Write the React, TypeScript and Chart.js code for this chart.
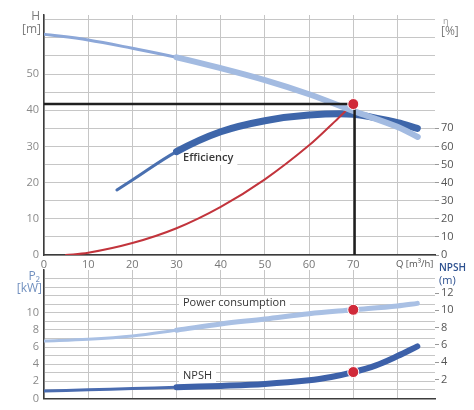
import Chart from 'chart.js/auto';
import { useEffect, useRef } from 'react';

// Q axis (m³/h), shared by both panels
const qTicks = [0, 10, 20, 30, 40, 50, 60, 70, 80];
const qLabels = [0, 10, 20, 30, 40, 50, 60, 70];
const qMax = 88.5;

// top panel: head H [m] on the left, efficiency η [%] on the right
const hTicks = [0, 5, 10, 15, 20, 25, 30, 35, 40, 45, 50, 55, 60, 65];
const hLabels = [0, 10, 20, 30, 40, 50];
const etaTicks = [0, 10, 20, 30, 40, 50, 60, 70];

const headQ = [0, 10, 20, 30, 40, 50, 60, 70, 80, 84.6];
const headM = [61, 59.4, 57.1, 54.6, 51.6, 48.3, 44.4, 39.8, 35.4, 32.6];

const effQ = [16.5, 20, 30, 40, 50, 60, 70, 80, 84.5];
const effPct = [35.9, 41.4, 57.1, 68.1, 74.2, 77.3, 77.7, 73.1, 70];

const systemQ = [4.8, 10, 20, 30, 40, 50, 60, 66.6, 69.5];
const systemM = [0, 0.6, 3.3, 7.4, 13.3, 20.9, 30.3, 37.8, 41.2];

// duty point
const dutyQ = 70;
const dutyH = 41.7;
const dutyP = 10.35;
const dutyNpsh = 2.85;

// bottom panel: P2 [kW] on the left, NPSH [m] on the right
const pTicks = [0, 1, 2, 3, 4, 5, 6, 7, 8, 9, 10, 11, 12, 13, 14];
const pLabels = [0, 2, 4, 6, 8, 10];
const npshTicks = [2, 4, 6, 8, 10, 12];

const powerQ = [0, 10, 20, 30, 40, 50, 60, 70, 80, 84.5];
const powerKw = [6.7, 6.9, 7.28, 7.97, 8.7, 9.27, 9.9, 10.35, 10.8, 11.1];

const npshQ = [0, 10, 20, 30, 40, 50, 60, 65, 70, 75, 80, 84.5];
const npshM = [0.67, 0.79, 0.94, 1.09, 1.25, 1.47, 1.89, 2.28, 2.85, 3.6, 4.7, 5.82];

const pts = (xs: number[], ys: number[]) => xs.map((x, i) => ({ x, y: ys[i] }));
const setTicks = (vals: number[]) => (s: any) => { s.ticks = vals.map(v => ({ value: v })); };

const GRID = '#c6c6c6';
const AXIS = '#3c3c3c';
const FONT = "'Open Sans', sans-serif";

function textBox(ctx: CanvasRenderingContext2D, t: string, x: number, y: number, font: string, color: string) {
	ctx.font = font;
	const w = ctx.measureText(t).width;
	ctx.fillStyle = '#fff';
	ctx.fillRect(x - 4, y - 7, w + 8, 14);
	ctx.fillStyle = color;
	ctx.textBaseline = 'middle';
	ctx.textAlign = 'left';
	ctx.fillText(t, x, y);
}

const topText = {
	id: 'topText',
	beforeDatasetsDraw(chart: any) {
		const ctx = chart.ctx;
		ctx.save();
		textBox(ctx, 'Efficiency', 183, 158, `600 11px ${FONT}`, '#3a3a3a');
		ctx.restore();
	},
	afterDraw(chart: any) {
		const ctx = chart.ctx;
		ctx.save();
		ctx.textBaseline = 'middle';
		ctx.fillStyle = '#7b7b7b';
		ctx.textAlign = 'right';
		ctx.font = `12px ${FONT}`;
		ctx.fillText('H', 40, 17);
		ctx.fillText('[m]', 41, 30);
		ctx.textAlign = 'left';
		ctx.font = `9px ${FONT}`;
		ctx.fillStyle = '#999';
		ctx.fillText('η', 443, 21);
		ctx.font = `12px ${FONT}`;
		ctx.fillStyle = '#7b7b7b';
		ctx.fillText('[%]', 441, 32);
		ctx.font = `9.5px ${FONT}`;
		ctx.fillStyle = '#555';
		ctx.fillText('Q [m³/h]', 396, 264);
		ctx.restore();
	},
};

const bottomText = {
	id: 'bottomText',
	beforeDatasetsDraw(chart: any) {
		const ctx = chart.ctx;
		ctx.save();
		textBox(ctx, 'Power consumption', 183, 45, `11px ${FONT}`, '#333');
		textBox(ctx, 'NPSH', 183, 118, `11px ${FONT}`, '#333');
		ctx.restore();
	},
	afterDraw(chart: any) {
		const ctx = chart.ctx;
		ctx.save();
		ctx.textBaseline = 'middle';
		ctx.fillStyle = '#7190bf';
		ctx.textAlign = 'right';
		ctx.font = `12px ${FONT}`;
		ctx.fillText('P₂', 40, 19);
		ctx.fillText('[kW]', 42, 31);
		ctx.textAlign = 'left';
		ctx.fillStyle = '#2d5190';
		ctx.font = `600 10px ${FONT}`;
		ctx.fillText('NPSH', 439, 10);
		ctx.font = `11px ${FONT}`;
		ctx.fillText('(m)', 439, 23);
		ctx.restore();
	},
};

function xScale(showLabels: boolean, height: number) {
	return {
		type: 'linear' as const,
		min: 0,
		max: qMax,
		afterBuildTicks: setTicks(qTicks),
		afterFit: (s: any) => { s.height = height; },
		grid: { color: GRID, lineWidth: 1, drawTicks: false },
		border: { color: AXIS, width: 1.5 },
		ticks: {
			display: showLabels,
			color: '#777',
			font: { size: 11 },
			padding: 3,
			maxRotation: 0,
			autoSkip: false,
			callback: (v: any) => (qLabels.includes(v) ? String(v) : ''),
		},
	};
}

function leftScale(min: number, max: number, ticks: number[], labels: number[]) {
	return {
		position: 'left' as const,
		min,
		max,
		afterBuildTicks: setTicks(ticks),
		afterFit: (s: any) => { s.width = 44; },
		grid: { color: GRID, lineWidth: 1, drawTicks: false },
		border: { color: AXIS, width: 1.5 },
		ticks: {
			color: '#8a8a8a',
			font: { size: 11 },
			padding: 5,
			autoSkip: false,
			callback: (v: any) => (labels.includes(v) ? String(v) : ''),
		},
	};
}

function rightScale(min: number, max: number, ticks: number[]) {
	return {
		position: 'right' as const,
		min,
		max,
		afterBuildTicks: setTicks(ticks),
		afterFit: (s: any) => { s.width = 39; },
		grid: { drawOnChartArea: false, drawTicks: true, tickLength: 4, color: '#999' },
		border: { display: false },
		ticks: { color: '#555', font: { size: 11 }, padding: 2, autoSkip: false },
	};
}

// a pump curve drawn thin (and a touch darker) up to Q = from, then thick
function curve(data: any[], axis: string, thinColor: string, color: string, thin: number, wide: number, from: number, order: number) {
	return {
		data,
		yAxisID: axis,
		borderColor: color,
		borderCapStyle: 'round' as const,
		tension: 0.35,
		pointRadius: 0,
		segment: {
			borderWidth: (c: any) => (c.p0.parsed.x >= from ? wide : thin),
			borderColor: (c: any) => (c.p0.parsed.x >= from ? color : thinColor),
		},
		order,
	};
}

function dot(x: number, y: number, axis: string) {
	return {
		data: [{ x, y }],
		yAxisID: axis,
		showLine: false,
		pointRadius: 5.5,
		pointBackgroundColor: '#d02a3a',
		pointBorderColor: '#fff',
		pointBorderWidth: 1,
		order: 0,
	};
}

export default function PumpCurve() {
	const topRef = useRef<HTMLCanvasElement | null>(null);
	const bottomRef = useRef<HTMLCanvasElement | null>(null);

	useEffect(() => {
		if (!topRef.current || !bottomRef.current) return;
		Chart.defaults.font.family = FONT;

		const top = new Chart(topRef.current, {
			type: 'line',
			data: {
				datasets: [
					dot(dutyQ, dutyH, 'y'),
					{
						data: [{ x: 0, y: dutyH }, { x: dutyQ, y: dutyH }],
						yAxisID: 'y',
						borderColor: '#1f1f1f',
						borderWidth: 2.5,
						pointRadius: 0,
						order: 1,
					},
					{
						data: [{ x: dutyQ + 0.3, y: 0 }, { x: dutyQ + 0.3, y: dutyH }],
						yAxisID: 'y',
						borderColor: '#1f1f1f',
						borderWidth: 2.5,
						pointRadius: 0,
						order: 1,
					},
					curve(pts(headQ, headM), 'y', '#8ca7d8', '#a3bbe1', 3, 6, 28, 2),
					{
						data: pts(systemQ, systemM),
						yAxisID: 'y',
						borderColor: '#c2343c',
						borderWidth: 2,
						tension: 0.35,
						pointRadius: 0,
						order: 3,
					},
					curve(pts(effQ, effPct), 'eta', '#4a70b0', '#3e66aa', 3, 7, 30, 4),
				],
			},
			options: {
				responsive: false,
				animation: false,
				layout: { padding: { top: 15, left: 0, right: 0, bottom: 0 } },
				plugins: { legend: { display: false }, tooltip: { enabled: false } },
				scales: {
					x: xScale(true, 15),
					y: leftScale(0, 66.3, hTicks, hLabels),
					eta: rightScale(0, 132.6, etaTicks),
				},
			},
			plugins: [topText],
		});

		const bottom = new Chart(bottomRef.current, {
			type: 'line',
			data: {
				datasets: [
					dot(dutyQ, dutyP, 'y'),
					dot(dutyQ, dutyNpsh, 'npsh'),
					curve(pts(powerQ, powerKw), 'y', '#a9c0e4', '#a9c0e4', 3, 5, 30, 1),
					curve(pts(npshQ, npshM), 'npsh', '#4a6cb0', '#3d61a9', 3, 6, 30, 1),
				],
			},
			options: {
				responsive: false,
				animation: false,
				layout: { padding: { top: 12, left: 0, right: 0, bottom: 0 } },
				plugins: { legend: { display: false }, tooltip: { enabled: false } },
				scales: {
					x: xScale(false, 10),
					y: leftScale(0, 15, pTicks, pLabels),
					npsh: rightScale(-0.2, 14.67, npshTicks),
				},
			},
			plugins: [bottomText],
		});

		return () => {
			top.destroy();
			bottom.destroy();
		};
	}, []);

	return (
		<div style={{ position: 'absolute', left: 0, top: 0, width: 474, height: 410, background: '#fff' }}>
			<canvas ref={topRef} width={474} height={270} style={{ position: 'absolute', left: 0, top: 0 }}></canvas>
			<canvas ref={bottomRef} width={474} height={152} style={{ position: 'absolute', left: 0, top: 258 }}></canvas>
		</div>
	);
}
